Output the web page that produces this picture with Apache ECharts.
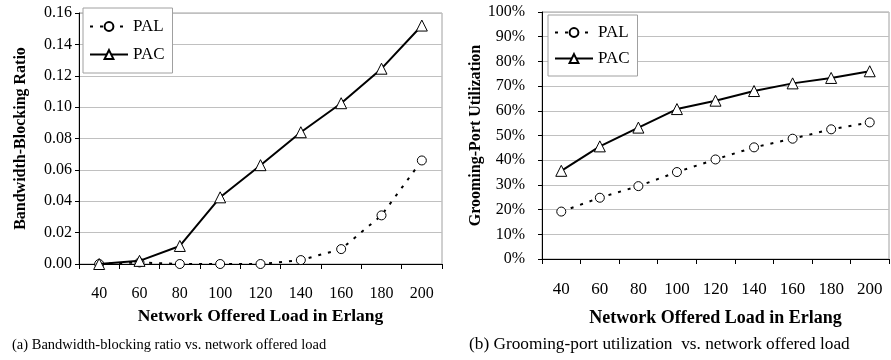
<!DOCTYPE html>
<html>
<head>
<meta charset="utf-8">
<script src="https://cdn.jsdelivr.net/npm/echarts@6/dist/echarts.min.js"></script>
<style>
html,body{margin:0;padding:0;background:#fff;}
#c{width:891px;height:360px;}
</style>
</head>
<body>
<div id="c"></div>
<script>
const categories = ['40','60','80','100','120','140','160','180','200'];
const blockPAL = [0, 0.001, 0, 0, 0, 0.0025, 0.0095, 0.031, 0.066];
const blockPAC = [0, 0.002, 0.0115, 0.0425, 0.063, 0.084, 0.1025, 0.1245, 0.152];
const utilPAL = [0.192, 0.248, 0.295, 0.352, 0.403, 0.452, 0.487, 0.525, 0.553];
const utilPAC = [0.357, 0.456, 0.532, 0.607, 0.641, 0.680, 0.711, 0.733, 0.760];
const blockTicks = ['0.00','0.02','0.04','0.06','0.08','0.10','0.12','0.14','0.16'];
const utilTicks = ['0%','10%','20%','30%','40%','50%','60%','70%','80%','90%','100%'];

const SERIF = '"Liberation Serif","Times New Roman",serif';
const chart = echarts.init(document.getElementById('c'), null, {renderer:'canvas'});

function xAxisCfg(gridIndex, nameGap, margin, nameSize, labelSize){
  return {
    type:'category', gridIndex, data:categories, boundaryGap:true,
    name:'Network Offered Load in Erlang', nameLocation:'middle', nameGap,
    nameTextStyle:{fontFamily:SERIF, fontWeight:'bold', fontSize:nameSize, color:'#000'},
    axisLine:{show:true, lineStyle:{color:'#000', width:1}},
    axisTick:{show:true, alignWithLabel:false, length:5, lineStyle:{color:'#000'}},
    axisLabel:{fontFamily:SERIF, fontSize:labelSize, color:'#000', margin},
    splitLine:{show:false}
  };
}
function yAxisCfg(gridIndex, max, interval, fmt, name, nameGap, labelMargin){
  return {
    type:'value', gridIndex, min:0, max, interval,
    name, nameLocation:'middle', nameGap,
    nameTextStyle:{fontFamily:SERIF, fontWeight:'bold', fontSize:16, color:'#000'},
    axisLine:{show:true, lineStyle:{color:'#000', width:1}},
    axisTick:{show:true, length:4, lineStyle:{color:'#000'}},
    axisLabel:{fontFamily:SERIF, fontSize:16, color:'#000', margin:labelMargin, formatter:fmt},
    splitLine:{show:true, lineStyle:{color:'#c0c0c0', width:1}}
  };
}

const palStyle = {type:'line', symbol:'circle', symbolSize:9, showSymbol:true,
  lineStyle:{color:'#000', width:2, type:[3,7]},
  itemStyle:{color:'#fff', borderColor:'#000', borderWidth:1}};
const pacStyle = {type:'line', symbol:'triangle', symbolSize:11, showSymbol:true,
  lineStyle:{color:'#000', width:2, type:'solid'},
  itemStyle:{color:'#fff', borderColor:'#000', borderWidth:1}};

const option = {
  animation:false,
  backgroundColor:'#fff',
  grid:[
    {left:79, top:13, width:363, height:251, show:true, borderColor:'#a0a0a0', borderWidth:1, backgroundColor:'transparent'},
    {left:542, top:12, width:347, height:247, show:true, borderColor:'#a0a0a0', borderWidth:1, backgroundColor:'transparent'}
  ],
  xAxis:[xAxisCfg(0, 43, 22, 17.5, 16), xAxisCfg(1, 50, 22, 18, 17)],
  yAxis:[
    yAxisCfg(0, 0.16, 0.02, v=>blockTicks[Math.round(v/0.02)], 'Bandwidth-Blocking Ratio', 50, 7),
    yAxisCfg(1, 1, 0.1, v=>utilTicks[Math.round(v/0.1)], 'Grooming-Port Utilization', 56, 17)
  ],
  legend:[
    {left:83, top:8, orient:'vertical', itemWidth:38, itemHeight:11, itemGap:11,
     padding:[10,8,10,6], borderColor:'#a0a0a0', borderWidth:1, backgroundColor:'#fff',
     textStyle:{fontFamily:SERIF, fontSize:17, color:'#000'},
     data:['PAL','PAC'], selectedMode:false},
    {left:548, top:15, orient:'vertical', itemWidth:38, itemHeight:11, itemGap:9,
     padding:[9,8,9,6], borderColor:'#a0a0a0', borderWidth:1, backgroundColor:'#fff',
     textStyle:{fontFamily:SERIF, fontSize:17, color:'#000'},
     data:['PAL','PAC'], selectedMode:false}
  ],
  title:[
    {text:'(a) Bandwidth-blocking ratio vs. network offered load', left:12, top:338,
     textStyle:{fontFamily:SERIF, fontWeight:'normal', fontSize:14.5, color:'#000'}, padding:0},
    {text:'(b) Grooming-port utilization  vs. network offered load', left:469, top:336,
     textStyle:{fontFamily:SERIF, fontWeight:'normal', fontSize:17.3, color:'#000'}, padding:0}
  ],
  series:[
    Object.assign({name:'PAL', xAxisIndex:0, yAxisIndex:0, data:blockPAL, z:3}, palStyle),
    Object.assign({name:'PAC', xAxisIndex:0, yAxisIndex:0, data:blockPAC, z:4}, pacStyle),
    Object.assign({name:'PAL', xAxisIndex:1, yAxisIndex:1, data:utilPAL, z:3}, palStyle),
    Object.assign({name:'PAC', xAxisIndex:1, yAxisIndex:1, data:utilPAC, z:4}, pacStyle)
  ]
};
chart.setOption(option);
</script>
</body>
</html>
